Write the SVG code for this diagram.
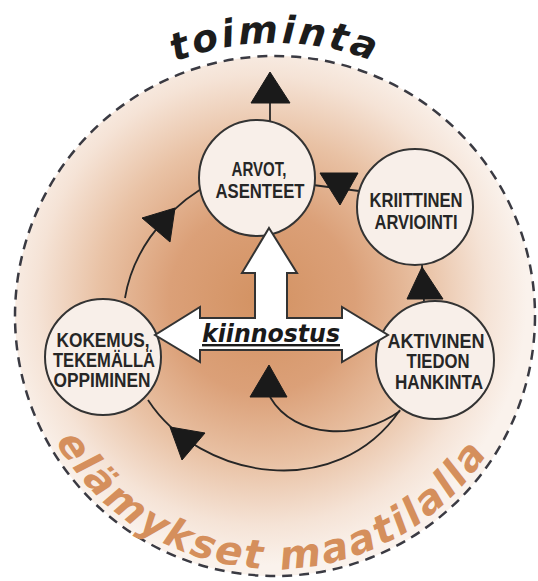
<svg xmlns="http://www.w3.org/2000/svg" width="538" height="581" viewBox="0 0 538 581">
  <defs>
    <radialGradient id="bg" gradientUnits="userSpaceOnUse" cx="262" cy="300" r="265">
      <stop offset="0" stop-color="#d39262"/>
      <stop offset="0.35" stop-color="#dba078"/>
      <stop offset="0.62" stop-color="#e9c2a5"/>
      <stop offset="0.85" stop-color="#f5e3d6"/>
      <stop offset="1" stop-color="#faf2ec"/>
    </radialGradient>
    <path id="topArc" d="M 2,316 A 273 273 0 0 1 548,316"/>
    <path id="bottomArc" d="M 22,316 A 253 253 0 0 0 528,316"/>
    <style>
      .node { fill: #f8efe9; stroke: #333; stroke-width: 2; }
      .lbl { font-family: "Liberation Sans", Arial, sans-serif; font-weight: bold; font-size: 20px; fill: #262626; text-anchor: middle; }
      .conn { fill: none; stroke: #262626; stroke-width: 1.8; }
      .head { fill: #1a1a1a; stroke: #1a1a1a; stroke-width: 1; stroke-linejoin: round; }
      .arc-title { font-family: "DejaVu Sans", sans-serif; font-weight: bold; font-style: italic; }
    </style>
  </defs>

  <g id="background">
    <circle cx="275" cy="316" r="260" fill="url(#bg)" stroke="#3a3a42" stroke-width="2.5" stroke-dasharray="10 7"/>
    <text class="arc-title" font-size="38" letter-spacing="3" fill="#1c1c1c"><textPath href="#topArc" startOffset="50%" text-anchor="middle">toiminta</textPath></text>
    <text class="arc-title" font-size="40" letter-spacing="2.5" fill="#d58f5c"><textPath href="#bottomArc" startOffset="49.3%" text-anchor="middle">elämykset maatilalla</textPath></text>
  </g>

  <g id="connectors">
    <!-- ARVOT -> toiminta -->
    <line class="conn" x1="270" y1="121" x2="270" y2="100"/>
    <polygon class="head" points="270,72 290,103 251,103"/>
    <!-- KOKEMUS -> ARVOT -->
    <path class="conn" d="M125,298 C132,255 160,215 201,189"/>
    <polygon class="head" points="175,208 170,242 142,218"/>
    <!-- KRIITTINEN -> ARVOT -->
    <line class="conn" x1="313" y1="185" x2="359" y2="191"/>
    <polygon class="head" points="320,173 358,173 340,205"/>
    <!-- AKTIVINEN -> KRIITTINEN -->
    <line class="conn" x1="424" y1="302" x2="422" y2="265"/>
    <polygon class="head" points="422,267 443,299 407,299"/>
    <!-- AKTIVINEN -> kiinnostus (inner loop) -->
    <path class="conn" d="M400,411 C360,440 295,440 270,397"/>
    <polygon class="head" points="269,365 287,397 250,397"/>
    <!-- AKTIVINEN -> KOKEMUS (outer loop) -->
    <path class="conn" d="M400,410 C337,503 200,480 148,400"/>
    <polygon class="head" points="170,427 205,433 182,460"/>
  </g>

  <g id="node-arvot">
    <circle class="node" cx="257" cy="178" r="58"/>
    <text class="lbl" x="259" y="176" textLength="55" lengthAdjust="spacingAndGlyphs">ARVOT,</text>
    <text class="lbl" x="260" y="198" textLength="89" lengthAdjust="spacingAndGlyphs">ASENTEET</text>
  </g>

  <g id="node-kriittinen">
    <circle class="node" cx="415" cy="207" r="58"/>
    <text class="lbl" x="416" y="207" textLength="93" lengthAdjust="spacingAndGlyphs">KRIITTINEN</text>
    <text class="lbl" x="416" y="229" textLength="83" lengthAdjust="spacingAndGlyphs">ARVIOINTI</text>
  </g>

  <g id="node-kokemus">
    <circle class="node" cx="103" cy="357" r="58"/>
    <text class="lbl" x="103" y="347" textLength="93" lengthAdjust="spacingAndGlyphs">KOKEMUS,</text>
    <text class="lbl" x="104" y="367" textLength="102" lengthAdjust="spacingAndGlyphs">TEKEMÄLLÄ</text>
    <text class="lbl" x="102" y="387" textLength="97" lengthAdjust="spacingAndGlyphs">OPPIMINEN</text>
  </g>

  <g id="node-aktivinen">
    <circle class="node" cx="435" cy="360" r="59"/>
    <text class="lbl" x="436" y="348" textLength="97" lengthAdjust="spacingAndGlyphs">AKTIVINEN</text>
    <text class="lbl" x="438" y="368" textLength="63" lengthAdjust="spacingAndGlyphs">TIEDON</text>
    <text class="lbl" x="439" y="389" textLength="88" lengthAdjust="spacingAndGlyphs">HANKINTA</text>
  </g>

  <g id="kiinnostus">
    <polygon points="269,228 297,273 287,273 287,318 342,318 342,307 388,335 342,362 342,350 200,350 200,362 155,335 200,307 200,318 255,318 255,273 242,273" fill="#ffffff" stroke="#333" stroke-width="2" stroke-linejoin="miter"/>
    <text x="271" y="342" font-family="DejaVu Sans, sans-serif" font-weight="bold" font-style="italic" font-size="24" fill="#1a1a1a" text-anchor="middle" text-decoration="underline" textLength="138" lengthAdjust="spacingAndGlyphs">kiinnostus</text>
  </g>
</svg>
